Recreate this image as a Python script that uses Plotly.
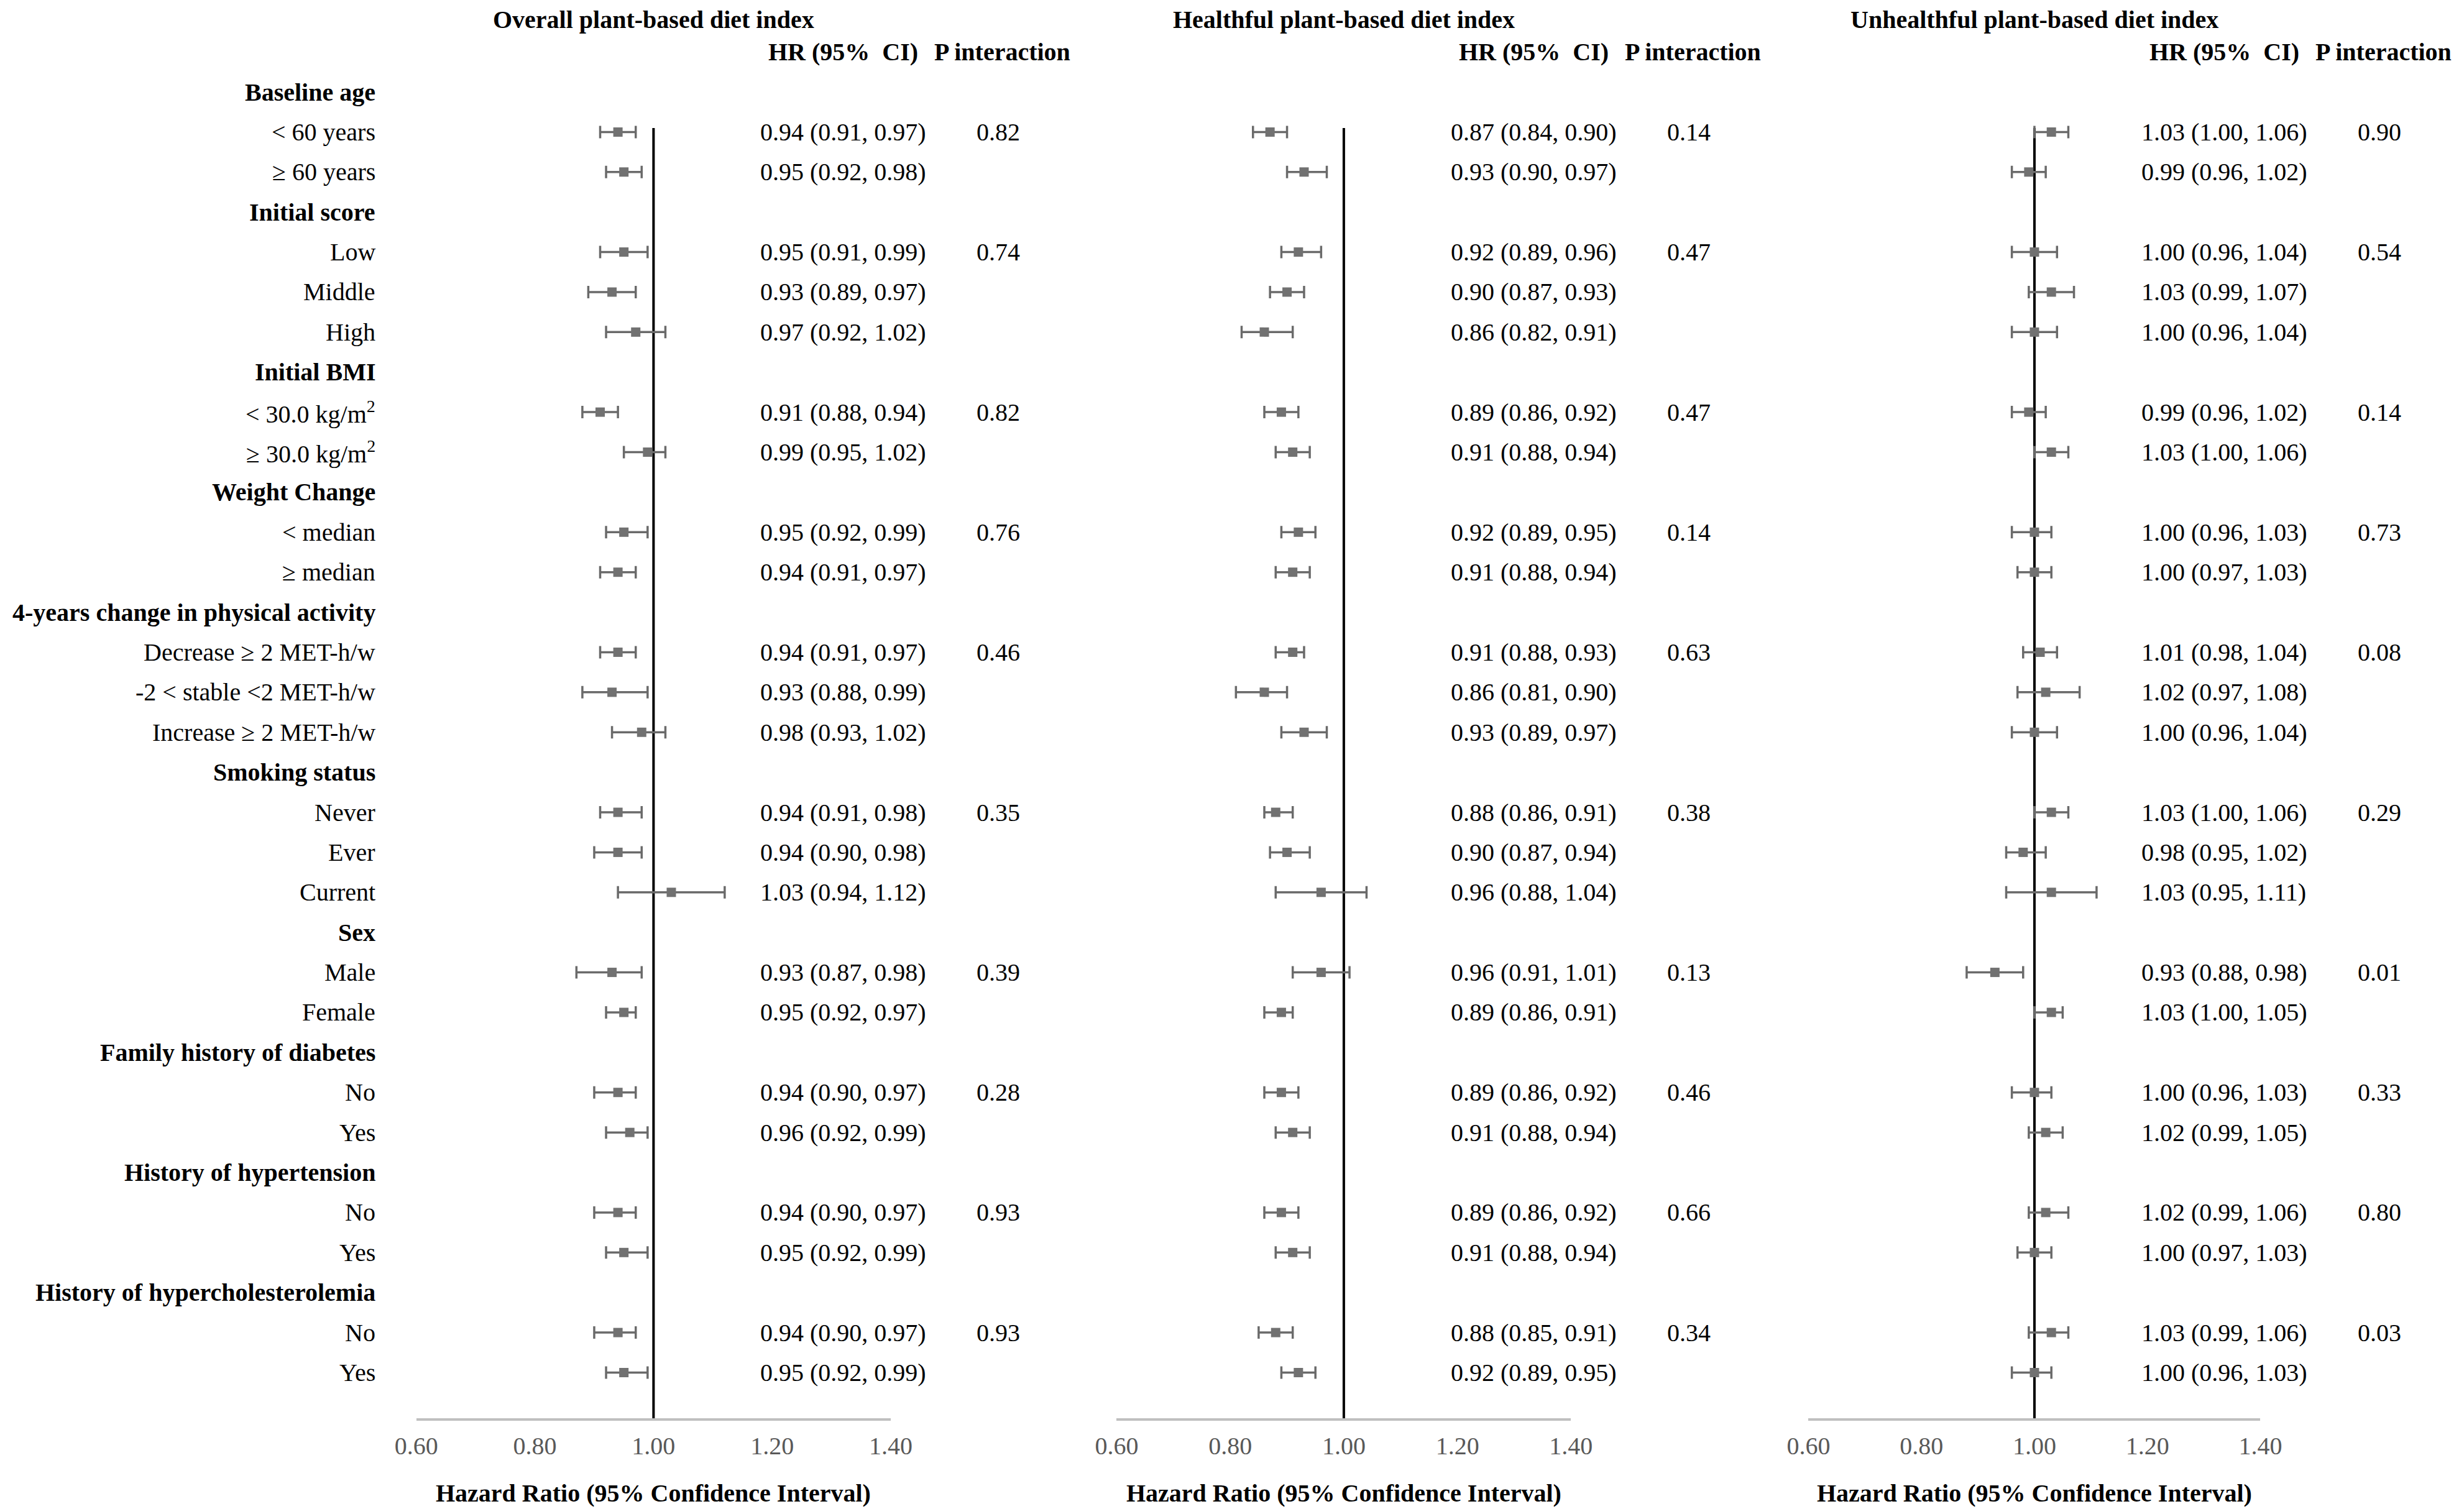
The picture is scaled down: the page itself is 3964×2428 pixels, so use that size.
import plotly.graph_objects as go

# ---------------- data ----------------
row_labels = [
    "Baseline age", "< 60 years", "≥ 60 years",
    "Initial score", "Low", "Middle", "High",
    "Initial BMI", "< 30.0 kg/m<sup>2</sup>", "≥ 30.0 kg/m<sup>2</sup>",
    "Weight Change", "< median", "≥ median",
    "4-years change in physical activity", "Decrease ≥ 2 MET-h/w", "-2 < stable <2 MET-h/w", "Increase ≥ 2 MET-h/w",
    "Smoking status", "Never", "Ever", "Current",
    "Sex", "Male", "Female",
    "Family history of diabetes", "No", "Yes",
    "History of hypertension", "No", "Yes",
    "History of hypercholesterolemia", "No", "Yes",
]
is_header = [1, 0, 0, 1, 0, 0, 0, 1, 0, 0, 1, 0, 0, 1, 0, 0, 0, 1, 0, 0, 0, 1, 0, 0, 1, 0, 0, 1, 0, 0, 1, 0, 0]

# rows (index into row_labels) that carry an estimate
est_rows = [1, 2, 4, 5, 6, 8, 9, 11, 12, 14, 15, 16, 18, 19, 20, 22, 23, 25, 26, 28, 29, 31, 32]

panel_titles = ["Overall plant-based diet index", "Healthful plant-based diet index",
                "Unhealthful plant-based diet index"]

overall_hr = [0.94, 0.95, 0.95, 0.93, 0.97, 0.91, 0.99, 0.95, 0.94, 0.94, 0.93, 0.98,
              0.94, 0.94, 1.03, 0.93, 0.95, 0.94, 0.96, 0.94, 0.95, 0.94, 0.95]
overall_lo = [0.91, 0.92, 0.91, 0.89, 0.92, 0.88, 0.95, 0.92, 0.91, 0.91, 0.88, 0.93,
              0.91, 0.90, 0.94, 0.87, 0.92, 0.90, 0.92, 0.90, 0.92, 0.90, 0.92]
overall_hi = [0.97, 0.98, 0.99, 0.97, 1.02, 0.94, 1.02, 0.99, 0.97, 0.97, 0.99, 1.02,
              0.98, 0.98, 1.12, 0.98, 0.97, 0.97, 0.99, 0.97, 0.99, 0.97, 0.99]
overall_p = ["0.82", "", "0.74", "", "", "0.82", "", "0.76", "", "0.46", "", "",
             "0.35", "", "", "0.39", "", "0.28", "", "0.93", "", "0.93", ""]

healthful_hr = [0.87, 0.93, 0.92, 0.90, 0.86, 0.89, 0.91, 0.92, 0.91, 0.91, 0.86, 0.93,
                0.88, 0.90, 0.96, 0.96, 0.89, 0.89, 0.91, 0.89, 0.91, 0.88, 0.92]
healthful_lo = [0.84, 0.90, 0.89, 0.87, 0.82, 0.86, 0.88, 0.89, 0.88, 0.88, 0.81, 0.89,
                0.86, 0.87, 0.88, 0.91, 0.86, 0.86, 0.88, 0.86, 0.88, 0.85, 0.89]
healthful_hi = [0.90, 0.97, 0.96, 0.93, 0.91, 0.92, 0.94, 0.95, 0.94, 0.93, 0.90, 0.97,
                0.91, 0.94, 1.04, 1.01, 0.91, 0.92, 0.94, 0.92, 0.94, 0.91, 0.95]
healthful_p = ["0.14", "", "0.47", "", "", "0.47", "", "0.14", "", "0.63", "", "",
               "0.38", "", "", "0.13", "", "0.46", "", "0.66", "", "0.34", ""]

unhealthful_hr = [1.03, 0.99, 1.00, 1.03, 1.00, 0.99, 1.03, 1.00, 1.00, 1.01, 1.02, 1.00,
                  1.03, 0.98, 1.03, 0.93, 1.03, 1.00, 1.02, 1.02, 1.00, 1.03, 1.00]
unhealthful_lo = [1.00, 0.96, 0.96, 0.99, 0.96, 0.96, 1.00, 0.96, 0.97, 0.98, 0.97, 0.96,
                  1.00, 0.95, 0.95, 0.88, 1.00, 0.96, 0.99, 0.99, 0.97, 0.99, 0.96]
unhealthful_hi = [1.06, 1.02, 1.04, 1.07, 1.04, 1.02, 1.06, 1.03, 1.03, 1.04, 1.08, 1.04,
                  1.06, 1.02, 1.11, 0.98, 1.05, 1.03, 1.05, 1.06, 1.03, 1.06, 1.03]
unhealthful_p = ["0.90", "", "0.54", "", "", "0.14", "", "0.73", "", "0.08", "", "",
                 "0.29", "", "", "0.01", "", "0.33", "", "0.80", "", "0.03", ""]

tick_vals = [0.60, 0.80, 1.00, 1.20, 1.40]
tick_text = [f"{v:.2f}" for v in tick_vals]

panels = [
    (overall_hr, overall_lo, overall_hi, overall_p),
    (healthful_hr, healthful_lo, healthful_hi, healthful_p),
    (unhealthful_hr, unhealthful_lo, unhealthful_hi, unhealthful_p),
]

# ---------------- layout constants ----------------
W, H = 3964, 2428
FONT = "Liberation Serif, Times New Roman, serif"
FS = 40
panel_px = [(638, 1415), (1785, 2529), (2918, 3658)]   # pixel x of 0.60 and 1.40
row0_px = 140.0      # pixel y of row 0
row_step = 64.39     # pixel spacing of rows
axis_px = 2274.0     # pixel y of the horizontal axis line
bottom_row = (axis_px - row0_px) / row_step
top_row = -row0_px / row_step
y_domain = [1 - axis_px / H, 1]
axis_title_px = 2394.0

MARK = "#717171"
ERR = "#6a6a6a"

fig = go.Figure()
annotations = []
shapes = []


def px_of(panel, val):
    a, b = panel_px[panel]
    return a + (val - 0.6) / 0.8 * (b - a)


for k, (hr, lo, hi, pv) in enumerate(panels):
    sfx = "" if k == 0 else str(k + 1)
    xa, ya = "x" + sfx, "y" + sfx
    fig.add_trace(go.Scatter(
        x=hr, y=est_rows, mode="markers",
        marker=dict(symbol="square", size=15, color=MARK),
        error_x=dict(type="data", symmetric=False,
                     array=[h - m for h, m in zip(hi, hr)],
                     arrayminus=[m - l for m, l in zip(hr, lo)],
                     color=ERR, thickness=3.5, width=10),
        xaxis=xa, yaxis=ya, showlegend=False, hoverinfo="skip",
    ))
    a, b = panel_px[k]
    fig.update_layout(**{
        ("xaxis" if k == 0 else f"xaxis{k+1}"): dict(
            domain=[a / W, b / W], range=[0.6, 1.4], anchor=ya,
            showline=True, linecolor="#bfbfbf", linewidth=4, mirror=False,
            showgrid=False, zeroline=False, ticks="",
            tickvals=tick_vals, ticktext=tick_text,
            tickfont=dict(family=FONT, size=FS, color="#595959"),
            ticklabelstandoff=6,
        ),
        ("yaxis" if k == 0 else f"yaxis{k+1}"): dict(
            domain=y_domain, range=[bottom_row, top_row], anchor=xa,
            visible=False, showgrid=False, zeroline=False,
        ),
    })
    # reference line at HR = 1
    shapes.append(dict(type="line", xref=xa, yref=ya, x0=1.0, x1=1.0, y0=0.9, y1=bottom_row,
                       line=dict(color="black", width=4), layer="below"))
    # panel title
    annotations.append(dict(text=f"<b>{panel_titles[k]}</b>", xref=xa, yref="paper", x=1.0, y=1.0,
                            xanchor="center", yanchor="top", borderpad=0, showarrow=False,
                            font=dict(family=FONT, size=FS, color="black")))
    # axis title
    annotations.append(dict(text="<b>Hazard Ratio (95% Confidence Interval)</b>", xref=xa, yref="paper",
                            x=1.0, y=1 - axis_title_px / H, xanchor="center", yanchor="middle",
                            showarrow=False, font=dict(family=FONT, size=FS, color="black")))
    one = px_of(k, 1.0)
    # column headers
    annotations.append(dict(text="<b>HR (95%\u00a0 CI)</b>", xref="paper", yref=ya,
                            x=(one + 186) / W, y=-1, xanchor="left", yanchor="middle",
                            showarrow=False, font=dict(family=FONT, size=FS, color="black")))
    annotations.append(dict(text="<b>P interaction</b>", xref="paper", yref=ya,
                            x=(one + 458) / W, y=-1, xanchor="left", yanchor="middle",
                            showarrow=False, font=dict(family=FONT, size=FS, color="black")))
    # estimate text and p values
    for r, h, l, u, p in zip(est_rows, hr, lo, hi, pv):
        annotations.append(dict(text=f"{h:.2f} ({l:.2f}, {u:.2f})", xref="paper", yref=ya,
                                x=(one + 173) / W, y=r, xanchor="left", yanchor="middle",
                                showarrow=False, font=dict(family=FONT, size=FS, color="black")))
        if p:
            annotations.append(dict(text=p, xref="paper", yref=ya,
                                    x=(one + 565) / W, y=r, xanchor="center", yanchor="middle",
                                    showarrow=False, font=dict(family=FONT, size=FS, color="black")))

# row labels
for r, (lab, hd) in enumerate(zip(row_labels, is_header)):
    annotations.append(dict(text=f"<b>{lab}</b>" if hd else lab, xref="paper", yref="y",
                            x=573 / W, y=r, xanchor="right", yanchor="middle", showarrow=False,
                            font=dict(family=FONT, size=FS, color="black")))

fig.update_layout(
    width=W, height=H, margin=dict(l=0, r=0, t=0, b=0),
    paper_bgcolor="white", plot_bgcolor="white",
    annotations=annotations, shapes=shapes, showlegend=False,
    font=dict(family=FONT, size=FS, color="black"),
)

fig.write_html("out.html")
